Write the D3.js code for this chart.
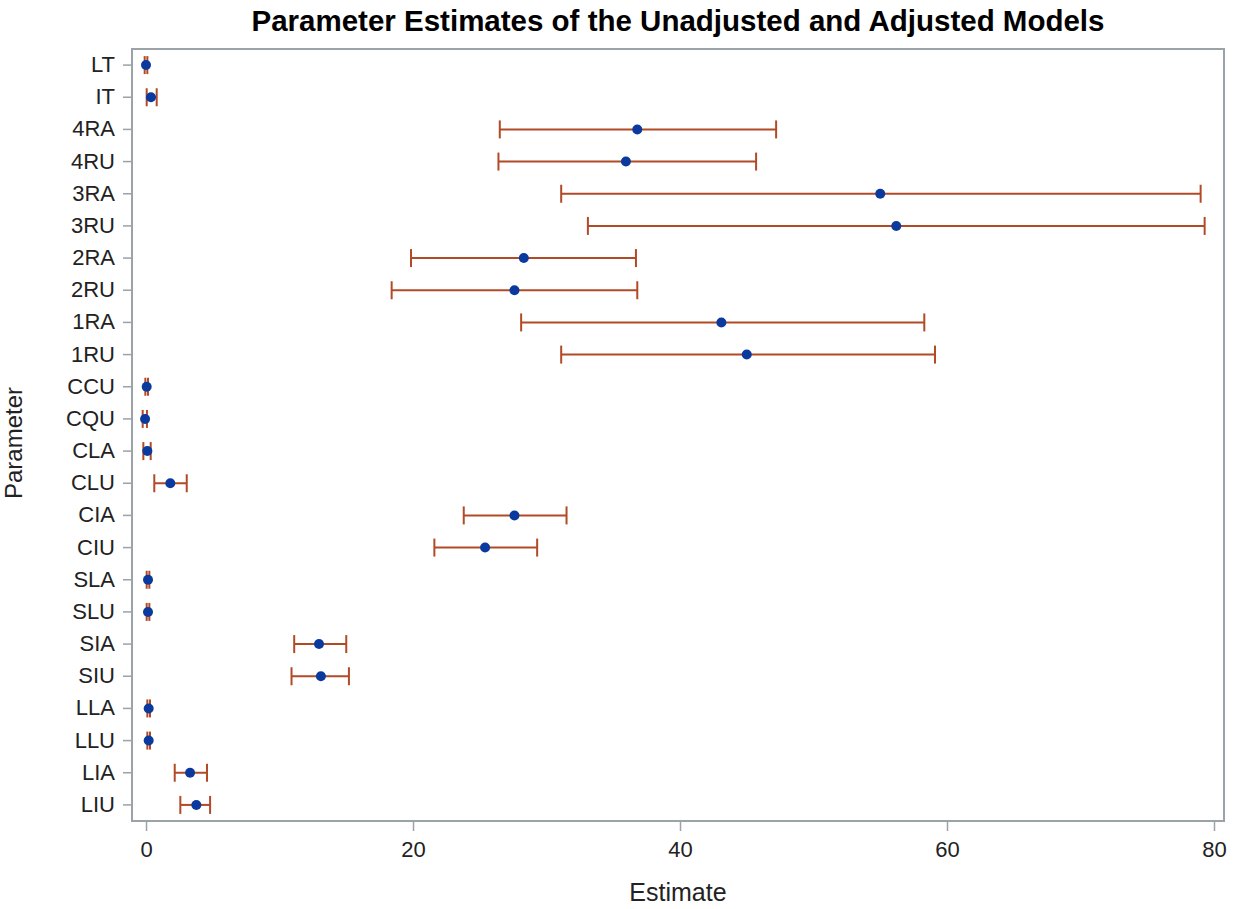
<!DOCTYPE html>
<html>
<head>
<meta charset="utf-8">
<script src="https://cdn.jsdelivr.net/npm/d3@7"></script>
<style>
  body { margin: 0; background: #fff; }
  text { font-family: "Liberation Sans", Arial, sans-serif; fill: #222; }
</style>
</head>
<body>
<div id="chart"></div>
<script>
// parameters, top to bottom
const params = ["LT", "IT", "4RA", "4RU", "3RA", "3RU", "2RA", "2RU", "1RA", "1RU",
  "CCU", "CQU", "CLA", "CLU", "CIA", "CIU", "SLA", "SLU", "SIA", "SIU",
  "LLA", "LLU", "LIA", "LIU"];
const estimates = [0.0, 0.37, 36.8, 35.95, 55.0, 56.2, 28.3, 27.6, 43.1, 45.0,
  0.05, -0.07, 0.1, 1.82, 27.6, 25.4, 0.15, 0.15, 12.96, 13.1,
  0.2, 0.2, 3.3, 3.77];
const lower = [-0.1, 0.05, 26.5, 26.4, 31.1, 33.1, 19.85, 18.4, 28.1, 31.1,
  -0.05, -0.25, -0.2, 0.62, 23.8, 21.6, 0.05, 0.05, 11.1, 10.9,
  0.1, 0.1, 2.15, 2.57];
const upper = [0.1, 0.8, 47.2, 45.7, 79.0, 79.3, 36.7, 36.8, 58.3, 59.1,
  0.15, 0.07, 0.35, 3.05, 31.5, 29.3, 0.25, 0.25, 15.0, 15.2,
  0.3, 0.3, 4.57, 4.8];
const xTicks = [0, 20, 40, 60, 80];

const rows = params.map((p, i) => ({ p, est: estimates[i], lo: lower[i], hi: upper[i] }));

const width = 1237, height = 909;
const margin = { top: 49, right: 13, bottom: 88, left: 132 };
const plotW = width - margin.left - margin.right;
const plotH = height - margin.top - margin.bottom;

const svg = d3.select("#chart").append("svg")
  .attr("width", width).attr("height", height);

const x = d3.scaleLinear().domain([-1.05, 80.75]).range([0, plotW]);
const y = d3.scaleBand().domain(params).range([0, plotH]).paddingOuter(0).paddingInner(0);

const g = svg.append("g").attr("transform", `translate(${margin.left},${margin.top})`);

// axes
const xAxis = g.append("g").attr("transform", `translate(0,${plotH})`)
  .call(d3.axisBottom(x).tickValues(xTicks).tickSize(10).tickPadding(10));
const yAxis = g.append("g")
  .call(d3.axisLeft(y).tickSize(9).tickPadding(8));
[xAxis, yAxis].forEach(a => {
  a.select(".domain").remove();
  a.selectAll("line").attr("stroke", "#9aa3a7").attr("stroke-width", 1.5);
  a.selectAll("text").style("font-size", "22px").attr("fill", "#222");
});

// frame
g.append("rect").attr("width", plotW).attr("height", plotH)
  .attr("fill", "none").attr("stroke", "#9aa3a7").attr("stroke-width", 2);

const lineColor = "#b14a26";
const capH = 9;
const bars = g.append("g").selectAll("g").data(rows).join("g")
  .attr("transform", d => `translate(0,${y(d.p) + y.bandwidth() / 2})`);

bars.append("line")
  .attr("x1", d => x(d.lo)).attr("x2", d => x(d.hi))
  .attr("stroke", lineColor).attr("stroke-width", 2);
bars.selectAll(".cap").data(d => [d.lo, d.hi]).join("line")
  .attr("class", "cap")
  .attr("x1", v => x(v)).attr("x2", v => x(v))
  .attr("y1", -capH).attr("y2", capH)
  .attr("stroke", lineColor).attr("stroke-width", 2);
bars.append("circle")
  .attr("cx", d => x(d.est)).attr("r", 5)
  .attr("fill", "#0a3a9e");

// titles
svg.append("text").attr("x", margin.left + plotW / 2).attr("y", 31)
  .attr("text-anchor", "middle").style("font-size", "29.5px").style("font-weight", "bold")
  .style("fill", "#000")
  .text("Parameter Estimates of the Unadjusted and Adjusted Models");
svg.append("text").attr("x", margin.left + plotW / 2).attr("y", 901)
  .attr("text-anchor", "middle").style("font-size", "25px")
  .text("Estimate");
svg.append("text")
  .attr("transform", `translate(22,${margin.top + plotH / 2 + 8}) rotate(-90)`)
  .attr("text-anchor", "middle").style("font-size", "24px")
  .text("Parameter");
</script>
</body>
</html>
